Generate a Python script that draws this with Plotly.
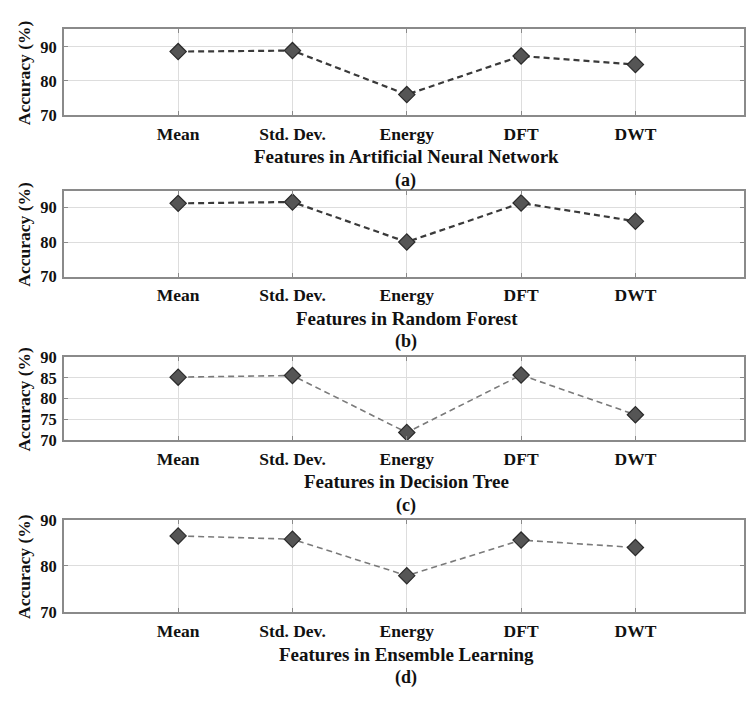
import plotly.graph_objects as go

features = ["Mean", "Std. Dev.", "Energy", "DFT", "DWT"]
ann_acc = [88.6, 88.9, 76.0, 87.3, 84.8]
rf_acc = [91.2, 91.6, 80.0, 91.3, 86.0]
dt_acc = [85.2, 85.6, 71.8, 85.7, 76.1]
el_acc = [86.5, 85.8, 77.9, 85.6, 84.0]

panel_titles = ["Features in Artificial Neural Network", "Features in Random Forest",
                "Features in Decision Tree", "Features in Ensemble Learning"]
panel_tags = ["(a)", "(b)", "(c)", "(d)"]
y_ranges = [[70, 95.1], [70, 94.8], [70, 90], [70, 90]]
y_ticks = [[70, 80, 90], [70, 80, 90], [70, 75, 80, 85, 90], [70, 80, 90]]

W, H = 746, 701
# pixel (top, bottom) of each plotting area
boxes = [(21, 109), (187, 275), (358, 443), (525, 620)]
line_colors = ["#3a3a3a", "#3a3a3a", "#7a7a7a", "#7a7a7a"]
line_widths = [2.2, 2.2, 1.6, 1.6]
series = [ann_acc, rf_acc, dt_acc, el_acc]

x_left = 64
xpos = list(range(1, len(features) + 1))

fig = go.Figure()
fam = "Liberation Serif"
xtick_font = dict(family=fam, size=17.5, color="#111111", weight="bold")
ytick_font = dict(family=fam, size=16.5, color="#111111", weight="bold")

annotations = []
for i, (vals, (top, bot)) in enumerate(zip(series, boxes)):
    n = i + 1
    xa = "x" if n == 1 else f"x{n}"
    ya = "y" if n == 1 else f"y{n}"
    fig.add_trace(go.Scatter(
        x=xpos, y=vals, mode="lines+markers", xaxis=xa, yaxis=ya,
        line=dict(color=line_colors[i], width=line_widths[i], dash="6px,4px"),
        marker=dict(symbol="diamond", size=12.5, color="#555555",
                    line=dict(color="#2a2a2a", width=1.2)),
        showlegend=False, cliponaxis=False))
    dom_y = [1 - bot / H, 1 - top / H]
    xkey = "xaxis" if n == 1 else f"xaxis{n}"
    ykey = "yaxis" if n == 1 else f"yaxis{n}"
    fig.update_layout(**{
        xkey: dict(domain=[x_left / W, 1], range=[0, 5.95], anchor=ya,
                   tickmode="array", tickvals=xpos, ticktext=features,
                   showgrid=True, gridcolor="#dddddd", gridwidth=1,
                   showline=True, linecolor="#8a8a8a", linewidth=1.6, mirror="allticks",
                   ticks="inside", ticklen=4, tickcolor="#8a8a8a",
                   tickfont=xtick_font, ticklabelstandoff=2, zeroline=False, fixedrange=True),
        ykey: dict(domain=dom_y, range=y_ranges[i], anchor=xa,
                   tickmode="array", tickvals=y_ticks[i],
                   showgrid=True, gridcolor="#dddddd", gridwidth=1,
                   showline=True, linecolor="#8a8a8a", linewidth=1.6, mirror="allticks",
                   ticks="inside", ticklen=4, tickcolor="#8a8a8a",
                   tickfont=ytick_font, ticklabelstandoff=2, zeroline=False, fixedrange=True),
    })
    mid_y = 1 - (top + bot) / 2 / H
    annotations.append(dict(text="Accuracy (%)", textangle=-90, x=24 / W, y=mid_y,
                            xref="paper", yref="paper", showarrow=False,
                            font=dict(family=fam, size=17.5, color="#111111", weight="bold"),
                            xanchor="center", yanchor="middle"))
    annotations.append(dict(text=panel_titles[i], x=408 / W, y=1 - (bot + 43) / H,
                            xref="paper", yref="paper", showarrow=False,
                            font=dict(family=fam, size=19, color="#111111", weight="bold"),
                            xanchor="center", yanchor="middle"))
    annotations.append(dict(text=panel_tags[i], x=407 / W, y=1 - (bot + 67) / H,
                            xref="paper", yref="paper", showarrow=False,
                            font=dict(family=fam, size=18, color="#111111", weight="bold"),
                            xanchor="center", yanchor="middle"))

fig.update_layout(width=W, height=H, margin=dict(l=0, r=0, t=0, b=0),
                  paper_bgcolor="white", plot_bgcolor="white",
                  annotations=annotations)
fig.write_html("out.html", include_plotlyjs=True)
